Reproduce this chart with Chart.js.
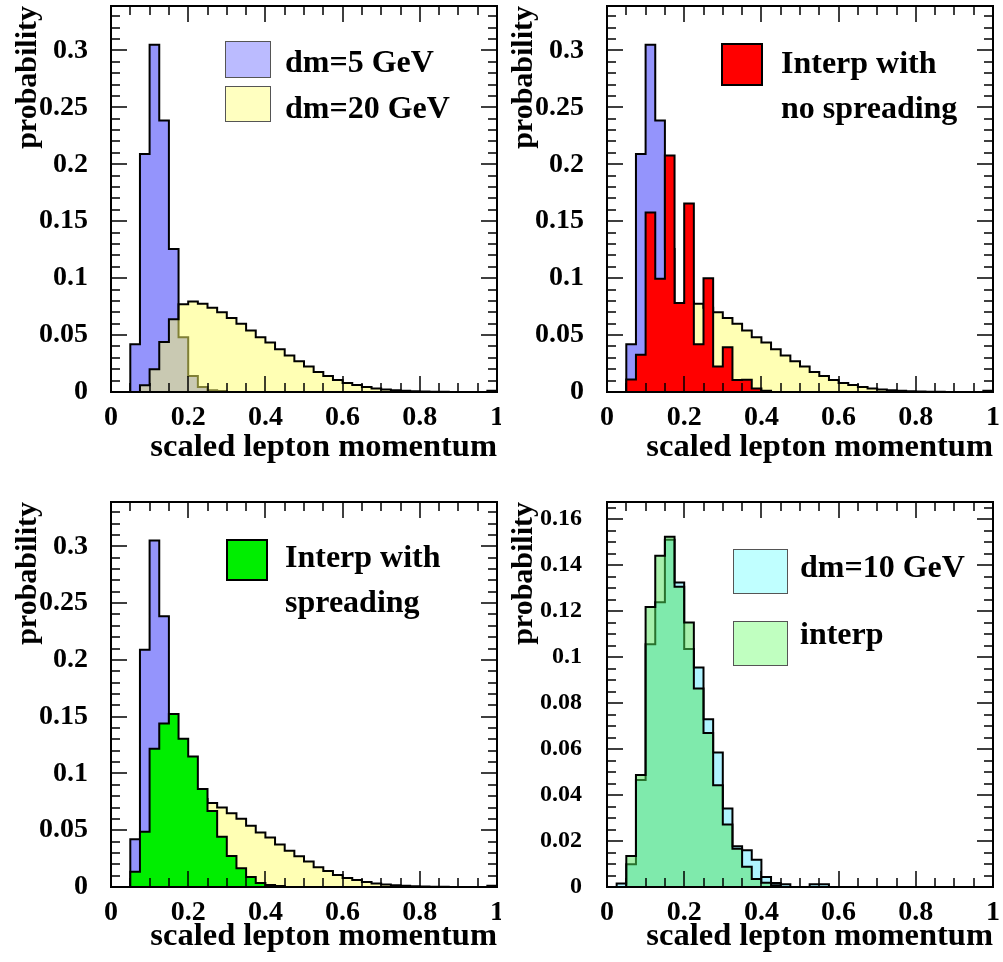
<!DOCTYPE html>
<html>
<head>
<meta charset="utf-8">
<title>scaled lepton momentum</title>
<script src="https://cdn.jsdelivr.net/npm/chart.js@4.4.1/dist/chart.umd.min.js"></script>
<style>
  html, body { margin: 0; padding: 0; background: #fff; }
  #page { position: relative; width: 1003px; height: 962px; overflow: hidden; }
  #page canvas { position: absolute; }
</style>
</head>
<body>
<div id="page">
  <canvas id="p1" width="501" height="481" style="left:0;top:0"></canvas>
  <canvas id="p2" width="502" height="481" style="left:501px;top:0"></canvas>
  <canvas id="p3" width="501" height="481" style="left:0;top:481px"></canvas>
  <canvas id="p4" width="502" height="481" style="left:501px;top:481px"></canvas>
</div>
<script>
// 40 bins of width 0.025 from 0 to 1
const BIN = 0.025;
const xTicks = [0, 0.2, 0.4, 0.6, 0.8, 1];
const yTicksWide = [0, 0.05, 0.1, 0.15, 0.2, 0.25, 0.3];
const yTicksNarrow = [0, 0.02, 0.04, 0.06, 0.08, 0.1, 0.12, 0.14, 0.16];

const dm5 = [
  0, 0, 0.042, 0.209, 0.305, 0.2385, 0.1256, 0.048, 0.0141, 0.0044,
  0.0015, 0.0008, 0, 0, 0, 0, 0, 0, 0, 0,
  0, 0, 0, 0, 0, 0, 0, 0, 0, 0,
  0, 0, 0, 0, 0, 0, 0, 0, 0, 0
];
const dm20 = [
  0, 0, 0, 0.006, 0.020, 0.044, 0.064, 0.077, 0.0795, 0.0775,
  0.074, 0.070, 0.065, 0.060, 0.054, 0.048, 0.0435, 0.0375, 0.032, 0.027,
  0.0225, 0.0175, 0.014, 0.0105, 0.008, 0.0062, 0.0044, 0.003, 0.0022, 0.0015,
  0.001, 0.0007, 0.0005, 0.0003, 0.0002, 0.0001, 0, 0, 0, 0.001
];
const dm10 = [
  0, 0.0015, 0.0099, 0.0465, 0.1055, 0.1238, 0.151, 0.1324, 0.1035, 0.0954,
  0.0729, 0.0585, 0.0341, 0.0177, 0.016, 0.0119, 0.0044, 0.0017, 0.0012, 0,
  0, 0.0012, 0.0012, 0, 0, 0, 0, 0, 0, 0,
  0, 0, 0, 0, 0, 0, 0, 0, 0, 0
];
const interpNoSpread = [
  0, 0, 0.011, 0.0328, 0.1576, 0.0994, 0.2076, 0.0782, 0.1656, 0.042,
  0.100, 0.0225, 0.0392, 0.0105, 0.0108, 0.0031, 0.0012, 0, 0, 0,
  0, 0, 0, 0, 0, 0, 0, 0, 0, 0,
  0, 0, 0, 0, 0, 0, 0, 0, 0, 0
];
const interpSpread = [
  0, 0, 0.0135, 0.0487, 0.1217, 0.144, 0.1523, 0.1306, 0.115, 0.0863,
  0.067, 0.0442, 0.0272, 0.0166, 0.0088, 0.0035, 0.0018, 0.0008, 0, 0,
  0, 0, 0, 0, 0, 0, 0, 0, 0, 0,
  0, 0, 0, 0, 0, 0, 0, 0, 0, 0
];

const FONT = "'Liberation Serif', 'Times New Roman', serif";
Chart.defaults.font.family = FONT;
Chart.defaults.font.weight = 'bold';
Chart.defaults.color = '#000';

// see-through fills, so the histogram drawn first still shows under the next one
const fills = {
  blue: 'rgba(90,90,250,0.65)',
  yellow: 'rgba(255,255,105,0.5)',
  red: '#ff0000',
  green: '#00ee00',
  cyan: 'rgba(110,235,255,0.55)',
  lightGreen: 'rgba(80,225,90,0.5)'
};

function histPoints(bins) {
  const pts = bins.map((v, i) => ({ x: i * BIN, y: v }));
  pts.push({ x: bins.length * BIN, y: 0 });
  return pts;
}

function minorValues(max, step) {
  const out = [];
  for (let k = 0; k * step <= max + 1e-9; k++) out.push(k * step);
  return out;
}
const isMajor = (v, majors) => majors.some(m => Math.abs(m - v) < 1e-7);

// frame with inward ticks on all four sides, like ROOT
const frameTicks = (xMinor, yMajor, yMinor) => ({
  id: 'frameTicks',
  afterDatasetsDraw(chart) {
    const { ctx, chartArea: a } = chart;
    const sx = chart.scales.x, sy = chart.scales.y;
    ctx.save();
    ctx.strokeStyle = '#000';
    ctx.lineWidth = 1.5;
    ctx.beginPath();
    minorValues(1, xMinor).forEach(v => {
      const len = isMajor(v, xTicks) ? 16 : 9;
      const px = Math.round(sx.getPixelForValue(v));
      ctx.moveTo(px, a.bottom); ctx.lineTo(px, a.bottom - len);
      ctx.moveTo(px, a.top); ctx.lineTo(px, a.top + len);
    });
    minorValues(sy.max, yMinor).forEach(v => {
      const len = isMajor(v, yMajor) ? 16 : 9;
      const py = Math.round(sy.getPixelForValue(v));
      ctx.moveTo(a.left, py); ctx.lineTo(a.left + len, py);
      ctx.moveTo(a.right, py); ctx.lineTo(a.right - len, py);
    });
    ctx.stroke();
    ctx.lineWidth = 2;
    ctx.strokeRect(a.left, a.top, a.right - a.left, a.bottom - a.top);
    ctx.restore();
  }
});

const boxLegend = (items) => ({
  id: 'boxLegend',
  afterDraw(chart) {
    const { ctx, chartArea: a } = chart;
    ctx.save();
    items.forEach(it => {
      const [bx, by, bw, bh] = it.box;
      ctx.fillStyle = it.fill;
      ctx.fillRect(a.left + bx, a.top + by, bw, bh);
      ctx.strokeStyle = it.stroke;
      ctx.lineWidth = it.lw;
      const o = it.lw % 2 ? 0.5 : 0;
      ctx.strokeRect(a.left + bx + o, a.top + by + o, bw, bh);
      ctx.fillStyle = '#000';
      ctx.font = 'bold 32px ' + FONT;
      ctx.textBaseline = 'alphabetic';
      ctx.textAlign = 'left';
      it.text.forEach((t, k) => ctx.fillText(t, a.left + it.tx, a.top + it.ty[k]));
    });
    ctx.restore();
  }
});

const panels = [
  {
    id: 'p1', padding: { left: 0, top: 6, right: 4, bottom: 0 }, yAxisW: 111, xAxisH: 89,
    xTitlePad: 14, yTitlePad: 10, yTickPad: 23, yTickSize: 28,
    yMax: 0.339, yTicks: yTicksWide, yMinor: 0.01,
    series: [
      { label: 'dm=5 GeV', bins: dm5, fill: fills.blue },
      { label: 'dm=20 GeV', bins: dm20, fill: fills.yellow }
    ],
    legend: [
      { box: [114, 35, 45, 36], fill: '#bbbbff', stroke: '#555', lw: 1, text: ['dm=5 GeV'], tx: 174, ty: [66] },
      { box: [114, 80, 45, 35], fill: '#ffffc0', stroke: '#555', lw: 1, text: ['dm=20 GeV'], tx: 174, ty: [112] }
    ]
  },
  {
    id: 'p2', padding: { left: 0, top: 6, right: 10, bottom: 0 }, yAxisW: 106, xAxisH: 89,
    xTitlePad: 14, yTitlePad: 5, yTickPad: 23, yTickSize: 28,
    yMax: 0.339, yTicks: yTicksWide, yMinor: 0.01,
    series: [
      { label: 'dm=5 GeV', bins: dm5, fill: fills.blue },
      { label: 'dm=20 GeV', bins: dm20, fill: fills.yellow },
      { label: 'Interp with no spreading', bins: interpNoSpread, fill: fills.red }
    ],
    legend: [
      { box: [115, 38, 40, 41], fill: fills.red, stroke: '#000', lw: 2, text: ['Interp with', 'no spreading'], tx: 174, ty: [67, 112] }
    ]
  },
  {
    id: 'p3', padding: { left: 0, top: 21, right: 4, bottom: 0 }, yAxisW: 111, xAxisH: 75,
    xTitlePad: 6, yTitlePad: 10, yTickPad: 23, yTickSize: 28,
    yMax: 0.339, yTicks: yTicksWide, yMinor: 0.01,
    series: [
      { label: 'dm=5 GeV', bins: dm5, fill: fills.blue },
      { label: 'dm=20 GeV', bins: dm20, fill: fills.yellow },
      { label: 'Interp with spreading', bins: interpSpread, fill: fills.green }
    ],
    legend: [
      { box: [116, 38, 40, 40], fill: fills.green, stroke: '#000', lw: 2, text: ['Interp with', 'spreading'], tx: 174, ty: [65, 110] }
    ]
  },
  {
    id: 'p4', padding: { left: 0, top: 21, right: 10, bottom: 0 }, yAxisW: 106, xAxisH: 75,
    xTitlePad: 6, yTitlePad: 5, yTickPad: 25, yTickSize: 24,
    yMax: 0.1674, yTicks: yTicksNarrow, yMinor: 0.005,
    series: [
      { label: 'dm=10 GeV', bins: dm10, fill: fills.cyan },
      { label: 'interp', bins: interpSpread, fill: fills.lightGreen }
    ],
    legend: [
      { box: [126, 47, 54, 44], fill: '#c0ffff', stroke: '#555', lw: 1, text: ['dm=10 GeV'], tx: 193, ty: [75] },
      { box: [126, 119, 54, 44], fill: '#c0ffc0', stroke: '#555', lw: 1, text: ['interp'], tx: 193, ty: [142] }
    ]
  }
];

panels.forEach(p => {
  new Chart(document.getElementById(p.id), {
    type: 'line',
    data: {
      datasets: p.series.map((s, k) => ({
        label: s.label,
        data: histPoints(s.bins),
        stepped: 'before',
        borderColor: '#000',
        borderWidth: 2,
        backgroundColor: s.fill,
        fill: 'origin',
        pointRadius: 0,
        order: p.series.length - k
      }))
    },
    options: {
      responsive: false,
      animation: false,
      events: [],
      layout: { padding: p.padding },
      plugins: { legend: { display: false }, tooltip: { enabled: false } },
      scales: {
        x: {
          type: 'linear', min: 0, max: 1,
          grid: { display: false, drawTicks: false },
          border: { display: false },
          afterBuildTicks: s => { s.ticks = xTicks.map(v => ({ value: v })); },
          afterFit: s => { s.height = p.xAxisH; s.paddingLeft = 0; s.paddingRight = 0; },
          ticks: { padding: 9, autoSkip: false, maxRotation: 0, font: { size: 28 }, callback: v => String(v) },
          title: { display: true, text: 'scaled lepton momentum', align: 'end',
                   font: { size: 32.5 }, padding: { top: 0, bottom: p.xTitlePad } }
        },
        y: {
          type: 'linear', min: 0, max: p.yMax,
          grid: { display: false, drawTicks: false },
          border: { display: false },
          afterBuildTicks: s => { s.ticks = p.yTicks.map(v => ({ value: v })); },
          afterFit: s => { s.width = p.yAxisW; s.paddingTop = 0; s.paddingBottom = 0; },
          ticks: { padding: p.yTickPad, autoSkip: false, font: { size: p.yTickSize }, callback: v => String(v) },
          title: { display: true, text: 'probability', align: 'end',
                   font: { size: 30 }, padding: { top: p.yTitlePad, bottom: 0 } }
        }
      }
    },
    plugins: [frameTicks(0.05, p.yTicks, p.yMinor), boxLegend(p.legend)]
  });
});
</script>
</body>
</html>
